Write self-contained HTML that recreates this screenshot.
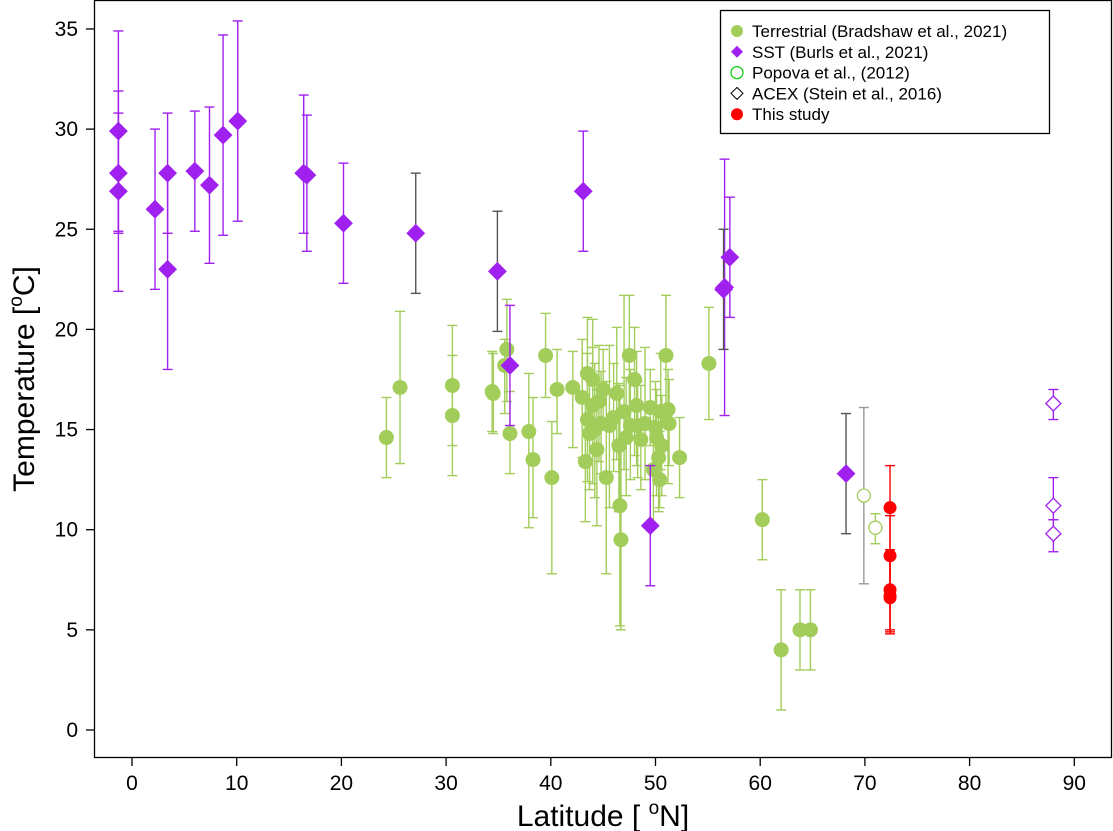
<!DOCTYPE html>
<html><head><meta charset="utf-8"><style>
body{margin:0;background:#fff;font-family:"Liberation Sans",Arial,sans-serif}
svg{display:block}
</style></head><body>
<svg id="c" width="1113" height="831" xmlns="http://www.w3.org/2000/svg"></svg>
<script>
// Terrestrial (Bradshaw et al., 2021)
const terrLat=[24.3,25.6,30.6,30.6,34.4,34.5,35.6,35.8,36.1,37.9,38.3,39.5,40.1,40.6,42.1,43.0,43.3,43.5,43.5,43.7,44.0,44.0,44.2,44.4,44.6,44.8,45.0,45.3,45.6,46.0,46.3,46.5,46.6,46.7,47.0,47.2,47.5,47.6,48.0,48.2,48.3,48.6,49.0,49.5,49.8,50.0,50.1,50.3,50.4,50.5,50.6,51.0,51.2,51.3,52.3,55.1,60.2,62.0,63.8,64.8];
const terrT=[14.6,17.1,17.2,15.7,16.9,16.8,18.2,19.0,14.8,14.9,13.5,18.7,12.6,17.0,17.1,16.6,13.4,17.8,15.5,14.8,17.5,16.2,15.0,14.0,16.4,15.3,17.0,12.6,15.2,15.6,16.8,14.2,11.2,9.5,15.9,14.6,18.7,15.2,17.5,16.2,15.2,14.5,15.3,16.1,13.0,15.1,14.6,13.6,12.5,15.9,14.2,18.7,16.0,15.3,13.6,18.3,10.5,4.0,5.0,5.0];
const terrLo=[12.6,13.3,12.7,14.2,14.9,14.8,15.8,16.4,12.8,10.1,10.6,16.6,7.8,14.8,14.1,13.6,10.4,15.0,12.4,12.0,14.6,12.3,11.6,10.2,13.4,12.8,15.0,7.8,11.1,12.9,13.5,10.9,5.2,5.0,13.0,11.7,15.5,12.5,13.7,13.2,12.6,12.0,12.5,14.2,10.2,12.9,11.7,10.9,11.1,13.0,11.7,15.5,12.3,13.2,11.6,15.5,8.5,1.0,3.0,3.0];
const terrHi=[16.6,20.9,20.2,18.7,18.9,18.8,19.5,21.5,16.9,17.8,16.6,20.8,15.4,19.0,18.9,19.5,16.4,20.6,18.8,17.8,20.5,19.1,18.3,17.0,19.2,17.9,19.0,17.4,19.2,18.3,20.1,17.3,17.2,14.3,21.7,17.6,21.7,18.0,20.1,18.9,17.4,17.2,19.1,18.0,15.9,17.4,17.0,15.7,14.9,18.8,16.7,21.7,18.0,17.5,15.6,21.1,12.5,7.0,7.0,7.0];
// SST (Burls et al., 2021)
const sstLat=[-1.3,-1.3,-1.3,2.2,3.4,3.4,6.0,7.4,8.7,10.1,16.4,16.7,20.2,27.1,34.9,36.1,43.1,49.5,56.6,56.5,57.1,68.2];
const sstT=[29.9,27.8,26.9,26.0,27.8,23.0,27.9,27.2,29.7,30.4,27.8,27.7,25.3,24.8,22.9,18.2,26.9,10.2,22.1,22.0,23.6,12.8];
const sstLo=[24.9,24.8,21.9,22.0,24.8,18.0,24.9,23.3,24.7,25.4,24.8,23.9,22.3,21.8,19.9,15.2,23.9,7.2,15.7,19.0,20.6,9.8];
const sstHi=[34.9,31.9,30.8,30.0,30.8,28.0,30.9,31.1,34.7,35.4,31.7,30.7,28.3,27.8,25.9,21.2,29.9,13.2,28.5,25.0,26.6,15.8];
// Popova et al. (2012)
const popLat=[69.9,71.0], popT=[11.7,10.1], popLo=[7.3,9.3], popHi=[16.1,10.8];
// ACEX (Stein et al., 2016)
const acLat=[88,88,88], acT=[16.3,11.2,9.8], acLo=[15.5,10.5,8.9], acHi=[17.0,12.6,10.5];
// This study
const stLat=[72.4,72.4,72.4,72.4,72.4], stT=[11.1,8.7,7.0,6.7,6.6], stLo=[9.0,6.7,5.0,4.9,4.8], stHi=[13.2,10.7,9.0,8.7,8.6];
const xTicks=[0,10,20,30,40,50,60,70,80,90];
const yTicks=[0,5,10,15,20,25,30,35];

const NS="http://www.w3.org/2000/svg", svg=document.getElementById('c');
const X=v=>132+v*10.47, Y=v=>730-v*20.03;
function mk(t,a,p){const e=document.createElementNS(NS,t);for(const k in a)e.setAttribute(k,a[k]);(p||svg).appendChild(e);return e;}
const plot=mk('g',{});


function eb(x,lo,hi,col,w){
 const g=mk('g',{stroke:col,'stroke-width':1.4,fill:'none'},plot);
 
 
 mk('line',{x1:X(x),x2:X(x),y1:Y(lo),y2:Y(hi)},g);
 mk('line',{x1:X(x)-w,x2:X(x)+w,y1:Y(lo),y2:Y(lo)},g);
 mk('line',{x1:X(x)-w,x2:X(x)+w,y1:Y(hi),y2:Y(hi)},g);
}
function dia(cx,cy,r,fill,stroke){return mk('polygon',{points:`${cx},${cy-r} ${cx+r},${cy} ${cx},${cy+r} ${cx-r},${cy}`,fill:fill,stroke:stroke,'stroke-width':1.3},plot);}
const G='#a2cd5a', P='#a020f0';
terrLat.forEach((l,i)=>eb(l,terrLo[i],terrHi[i],G,5));
terrLat.forEach((l,i)=>{const c=mk('circle',{cx:X(l),cy:Y(terrT[i]),r:7.5,fill:G},plot);
 
 });
const grey=[13,14,19,21];
sstLat.forEach((l,i)=>eb(l,sstLo[i],sstHi[i],grey.includes(i)?'#555':P,5));
sstLat.forEach((l,i)=>{const d=dia(X(l),Y(sstT[i]),8.5,P,P);
 
 });
popLat.forEach((l,i)=>eb(l,popLo[i],popHi[i],i?G:'#999',5));
popLat.forEach((l,i)=>{const c=mk('circle',{cx:X(l),cy:Y(popT[i]),r:6.5,fill:'#fff',stroke:G,'stroke-width':1.3},plot);
 
 });
acLat.forEach((l,i)=>eb(l,acLo[i],acHi[i],P,5));
acLat.forEach((l,i)=>{const d=dia(X(l),Y(acT[i]),7.5,'#fff',P);
 
 });
stLat.forEach((l,i)=>eb(l,stLo[i],stHi[i],'#f00',5));
stLat.forEach((l,i)=>{const c=mk('circle',{cx:X(l),cy:Y(stT[i]),r:6.5,fill:'#f00'},plot);
 
 });
const fr=mk('rect',{x:94.5,y:0.5,width:1017,height:757,fill:'none',stroke:'#000','stroke-width':1.3});


xTicks.forEach(t=>{mk('line',{x1:X(t),x2:X(t),y1:758,y2:766,stroke:'#000','stroke-width':1.3});
 const tx=mk('text',{x:X(t),y:790,'text-anchor':'middle','font-size':21});tx.textContent=t;
 
 });
yTicks.forEach(t=>{mk('line',{x1:86,x2:94,y1:Y(t),y2:Y(t),stroke:'#000','stroke-width':1.3});
 const tx=mk('text',{x:78,y:Y(t)+7,'text-anchor':'end','font-size':21});tx.textContent=t;
 
 });
const xt=mk('text',{x:603,y:826,'text-anchor':'middle','font-size':30});
xt.innerHTML='Latitude [ <tspan dy="-12" font-size="19">o</tspan><tspan dy="12">N]</tspan>';


const yt=mk('text',{x:0,y:0,'text-anchor':'middle','font-size':30,transform:'translate(34,379) rotate(-90)'});
yt.innerHTML='Temperature [<tspan dy="-12" font-size="19">o</tspan><tspan dy="12">C]</tspan>';


const lg=mk('g',{});


mk('rect',{x:720.5,y:10.5,width:329,height:123,fill:'#fff',stroke:'#000','stroke-width':1.3},lg);
const labs=['Terrestrial (Bradshaw et al., 2021)','SST (Burls et al., 2021)','Popova et al., (2012)','ACEX (Stein et al., 2016)','This study'];
labs.forEach((s,i)=>{const y=31+i*20.8;
 const e=mk('g',{},lg);
 
 
 if(i==0)mk('circle',{cx:737,cy:y,r:6,fill:G},e);
 if(i==1)mk('polygon',{points:`737,${y-6} 743,${y} 737,${y+6} 731,${y}`,fill:P},e);
 if(i==2)mk('circle',{cx:737,cy:y,r:6,fill:'#fff',stroke:'#0c0','stroke-width':1.2},e);
 if(i==3)mk('polygon',{points:`737,${y-6} 743,${y} 737,${y+6} 731,${y}`,fill:'#fff',stroke:'#000','stroke-width':1},e);
 if(i==4)mk('circle',{cx:737,cy:y,r:6,fill:'#f00'},e);
 const t=mk('text',{x:752,y:y+6,'font-size':17},e);t.textContent=s;});
</script>
</body></html>
